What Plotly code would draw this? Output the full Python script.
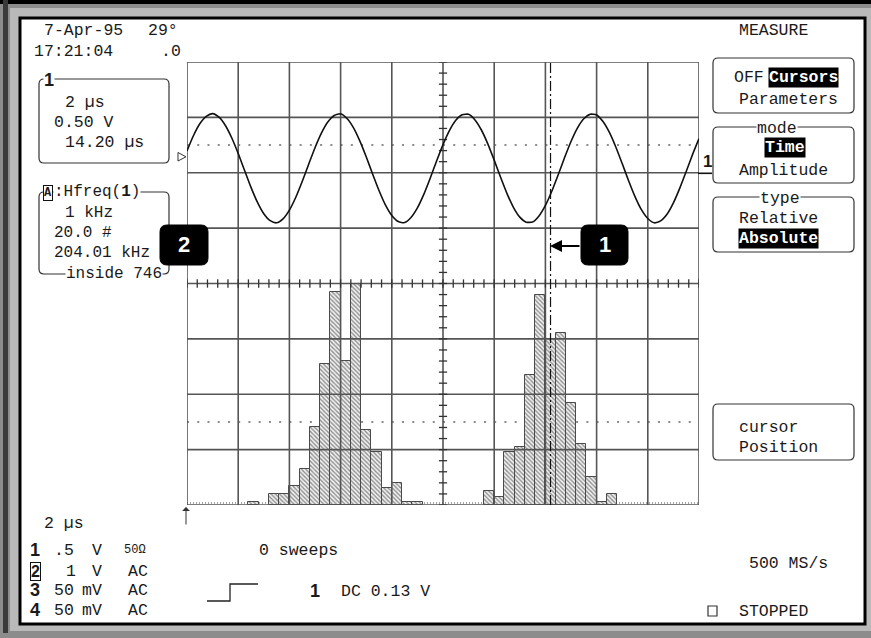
import plotly.graph_objects as go

time_us = [0.0, 0.25, 0.5, 0.75, 1.0, 1.25, 1.5, 1.75, 2.0, 2.25,
           2.5, 2.75, 3.0, 3.25, 3.5, 3.75, 4.0, 4.25, 4.5, 4.75,
           5.0, 5.25, 5.5, 5.75, 6.0, 6.25, 6.5, 6.75, 7.0, 7.25,
           7.5, 7.75, 8.0, 8.25, 8.5, 8.75, 9.0, 9.25, 9.5, 9.75,
           10.0, 10.25, 10.5, 10.75, 11.0, 11.25, 11.5, 11.75, 12.0, 12.25,
           12.5, 12.75, 13.0, 13.25, 13.5, 13.75, 14.0, 14.25, 14.5, 14.75,
           15.0, 15.25, 15.5, 15.75, 16.0, 16.25, 16.5, 16.75, 17.0, 17.25,
           17.5, 17.75, 18.0, 18.25, 18.5, 18.75, 19.0, 19.25, 19.5, 19.75,
           20.0]
ch1_volts = [0.197, 0.334, 0.442, 0.509, 0.534, 0.502, 0.427, 0.314, 0.174, 0.020,
             -0.132, -0.266, -0.371, -0.433, -0.452, -0.416, -0.337, -0.221, -0.079, 0.075,
             0.226, 0.358, 0.458, 0.517, 0.532, 0.490, 0.408, 0.288, 0.144, -0.011,
             -0.160, -0.290, -0.386, -0.441, -0.450, -0.404, -0.317, -0.195, -0.049, 0.106,
             0.254, 0.381, 0.474, 0.523, 0.528, 0.477, 0.386, 0.261, 0.114, -0.041,
             -0.188, -0.312, -0.401, -0.446, -0.445, -0.390, -0.295, -0.167, -0.018, 0.137,
             0.282, 0.403, 0.487, 0.528, 0.522, 0.462, 0.364, 0.233, 0.083, -0.072,
             -0.215, -0.333, -0.413, -0.452, -0.435, -0.375, -0.272, -0.139, 0.012, 0.166,
             0.308]

hist_center_us = [2.6, 3.4, 3.8, 4.2, 4.6, 5.0, 5.4, 5.8, 6.2, 6.6, 7.0, 7.4, 7.8, 8.2, 8.6, 9.0,
                  11.8, 12.2, 12.6, 13.0, 13.4, 13.8, 14.2, 14.6, 15.0, 15.4, 15.8, 16.2, 16.6]
hist_counts = [1, 4, 4, 7, 13, 28, 51, 77, 52, 80, 27, 19, 6, 8, 1, 1,
               5, 3, 19, 21, 47, 76, 60, 62, 37, 22, 10, 1, 4]
hist_bin_us = 0.4

cursor_time_us = 14.2
trigger_level_v = 0.13

time_per_div = 2.0      # us / div
volts_per_div = 0.5     # V / div
counts_per_div = 20.0   # # / div
n_hdiv, n_vdiv = 10, 8
ch1_ground_div = 2.0

# ---------------- geometry ----------------
FW, FH = 871, 638
L, T, PW, PH = 187, 62, 512, 443
MONO = "Liberation Mono"
SANS = "Liberation Sans"
INK = "#1a1a1a"
GRID = "#555555"


def fx(p):
    return (p - L) / PW


def fy(p):
    return (T + PH - p) / PH


fig = go.Figure()

# histogram (main y axis = counts)
fig.add_trace(go.Bar(
    x=hist_center_us, y=hist_counts, width=hist_bin_us,
    marker=dict(color="white",
                line=dict(color="#4a4a4a", width=1),
                pattern=dict(shape="\\", fgcolor="#2a2a2a", bgcolor="#f2f2f2",
                             size=3, solidity=0.45)),
    yaxis="y", hoverinfo="skip", showlegend=False))

# grid (y2 = screen divisions)
xmax = n_hdiv * time_per_div
gx, gy = [], []
for i in range(n_hdiv + 1):
    gx += [i * time_per_div, i * time_per_div, None]
    gy += [-n_vdiv / 2, n_vdiv / 2, None]
for j in range(n_vdiv + 1):
    gx += [0, xmax, None]
    gy += [-n_vdiv / 2 + j, -n_vdiv / 2 + j, None]
fig.add_trace(go.Scatter(x=gx, y=gy, mode="lines", yaxis="y2",
                         line=dict(color=GRID, width=1.6),
                         hoverinfo="skip", showlegend=False))

# minor ticks on centre cross
tx, ty = [], []
for k in range(n_hdiv * 5 + 1):
    xv = k * time_per_div / 5
    tx += [xv, xv, None]
    ty += [-0.075, 0.075, None]
for k in range(n_vdiv * 5 + 1):
    yv = -n_vdiv / 2 + k / 5
    tx += [xmax / 2 - 0.16, xmax / 2 + 0.16, None]
    ty += [yv, yv, None]
fig.add_trace(go.Scatter(x=tx, y=ty, mode="lines", yaxis="y2",
                         line=dict(color="#333333", width=1.3),
                         hoverinfo="skip", showlegend=False))

# cursor
fig.add_trace(go.Scatter(x=[cursor_time_us, cursor_time_us], y=[-n_vdiv / 2, n_vdiv / 2],
                         mode="lines", yaxis="y2",
                         line=dict(color="#111111", width=1.2, dash="10px,3px,2px,3px"),
                         hoverinfo="skip", showlegend=False))

# waveform (y3 = volts)
fig.add_trace(go.Scatter(x=time_us, y=ch1_volts, mode="lines", yaxis="y3",
                         line=dict(color="#111111", width=1.6, shape="spline", smoothing=0.6),
                         hoverinfo="skip", showlegend=False))

shapes = []


def rect(x0, y0, x1, y1, fill, line=None, lw=0, layer="below"):
    shapes.append(dict(type="rect", xref="paper", yref="paper",
                       x0=fx(x0), x1=fx(x1), y0=fy(y1), y1=fy(y0),
                       fillcolor=fill, line=dict(color=line or fill, width=lw), layer=layer))


def rbox(x0, y0, x1, y1, r, fill="rgba(0,0,0,0)", line="#333333", lw=1.2, layer="above"):
    def P(a, b):
        return f"{fx(a):.5f},{fy(b):.5f}"
    path = (f"M{P(x0 + r, y0)} L{P(x1 - r, y0)} Q{P(x1, y0)} {P(x1, y0 + r)} "
            f"L{P(x1, y1 - r)} Q{P(x1, y1)} {P(x1 - r, y1)} L{P(x0 + r, y1)} "
            f"Q{P(x0, y1)} {P(x0, y1 - r)} L{P(x0, y0 + r)} Q{P(x0, y0)} {P(x0 + r, y0)} Z")
    shapes.append(dict(type="path", xref="paper", yref="paper", path=path,
                       fillcolor=fill, line=dict(color=line, width=lw), layer=layer))


def pline(pts, color="#222222", lw=1.2, layer="above"):
    path = "M" + " L".join(f"{fx(a):.5f},{fy(b):.5f}" for a, b in pts)
    shapes.append(dict(type="path", xref="paper", yref="paper", path=path,
                       line=dict(color=color, width=lw), layer=layer))


# frame
rect(0, 0, FW, FH, "#8c8c8c")
rect(10, 8, FW, 631, "#b9b9b9")
rect(0, 0, FW, 4, "#000000")
rect(3, 0, 8, 633, "#3a3a3a")
rect(20, 18, 865, 624, "white", line="#000000", lw=3)

# dotted half-division lines (below bars)
for yv in (2.5, -2.5):
    shapes.append(dict(type="line", xref="x", yref="y2", x0=0, x1=xmax, y0=yv, y1=yv,
                       line=dict(color="#666666", width=1.5, dash="2px,8.24px"), layer="below"))
# histogram baseline
shapes.append(dict(type="line", xref="x", yref="y", x0=0, x1=xmax, y0=0.7, y1=0.7,
                   line=dict(color="#888888", width=1.5, dash="1px,2px"), layer="below"))

# left info boxes
rbox(39, 79, 169, 163, 5)
rbox(39, 192, 169, 274, 5)
# right menu boxes
rbox(713, 58, 854, 113, 5)
rbox(713, 127, 854, 183, 5)
rbox(713, 197, 854, 252, 5)
rbox(713, 404, 854, 460, 5)

# ch1 ground marker extension, trigger marker
pline([(698, 173.3), (712, 173.3)], color="#111111", lw=1.6)
shapes.append(dict(type="path", xref="paper", yref="paper",
                   path=f"M{fx(178):.5f},{fy(152.5):.5f} L{fx(186):.5f},{fy(156.8):.5f} "
                        f"L{fx(178):.5f},{fy(161):.5f} Z",
                   line=dict(color="#333333", width=1), fillcolor="white", layer="above"))
# trigger type symbol
pline([(207, 601), (230, 601), (230, 584), (258, 584)], color="#222222", lw=1.3)
# stopped square
rect(708, 606, 717, 616, "white", line="#333333", lw=1.2, layer="above")

# callout boxes
rbox(160, 225, 208, 265, 7, fill="#000000", line="#000000", lw=1)
rbox(581, 225, 628, 265, 7, fill="#000000", line="#000000", lw=1)

annotations = []


def txt(x, y, s, anchor="left", size=16.5, family=MONO, color=INK, bold=False,
        bg=None, border=None, pad=0):
    if bold:
        s = f"<b>{s}</b>"
    d = dict(x=fx(x), y=fy(y), xref="paper", yref="paper", text=s, showarrow=False,
             xanchor=anchor, yanchor="middle", font=dict(family=family, size=size, color=color),
             borderpad=pad)
    if bg:
        d["bgcolor"] = bg
    if border:
        d["bordercolor"] = border
        d["borderwidth"] = 1
    annotations.append(d)


# header
txt(43, 31, "7-Apr-95")
txt(147, 31, "29°")
txt(33, 52, "17:21:04")
txt(160, 52, ".0")
txt(738, 31, "MEASURE")

# box 1
txt(48.5, 80, "1", anchor="center", family=SANS, size=18, bold=True, bg="white")
txt(64, 102, "2 µs")
txt(53, 122, "0.50 V")
txt(64, 142, "14.20 µs")

# box 2 (histogram parameters)
txt(47.5, 193, "A", anchor="center", size=12, bold=True, bg="white", border="#111111", pad=0)
txt(53, 192, ":Hfreq(<b>1</b>)", bg="white", size=16)
txt(64, 213, "1 kHz", size=16)
txt(53, 233, "20.0 #", size=16)
txt(53, 253, "204.01 kHz", size=16)
txt(65, 274, "inside 746", bg="white", size=16)

# callout numbers
txt(184, 245, "2", anchor="center", family=SANS, size=22, bold=True, color="white")
txt(604.5, 245, "1", anchor="center", family=SANS, size=22, bold=True, color="white")
annotations.append(dict(x=fx(550), y=fy(246), xref="paper", yref="paper", text="",
                        showarrow=True, ax=31, ay=0, arrowhead=2, arrowsize=1.2,
                        arrowwidth=2, arrowcolor="#000000"))
# trigger position arrow at bottom
annotations.append(dict(x=fx(186), y=fy(507), xref="paper", yref="paper", text="",
                        showarrow=True, ax=0, ay=19, arrowhead=1, arrowsize=1.3,
                        arrowwidth=1, arrowcolor="#333333"))

# ch1 marker
txt(707, 161, "1", anchor="center", family=SANS, size=17, bold=True)

# right menu
txt(733, 77, "OFF")
txt(768, 77, "Cursors", bold=True, color="white", bg="#000000")
txt(738, 100, "Parameters")
txt(777, 128, "mode", anchor="center", bg="white")
txt(785, 147, "Time", anchor="center", bold=True, color="white", bg="#000000")
txt(738, 170, "Amplitude")
txt(780, 198, "type", anchor="center", bg="white")
txt(738, 218, "Relative")
txt(738, 238, "Absolute", bold=True, color="white", bg="#000000")
txt(738, 427, "cursor")
txt(738, 447, "Position")

# bottom status
txt(43, 523, "2 µs")
rows_y = [550, 571, 590, 610]
txt(35, rows_y[0], "1", anchor="center", family=SANS, size=18, bold=True)
txt(35, rows_y[1], "2", anchor="center", family=SANS, size=16, bold=True, border="#111111")
txt(35, rows_y[2], "3", anchor="center", family=SANS, size=18, bold=True)
txt(35, rows_y[3], "4", anchor="center", family=SANS, size=18, bold=True)
txt(53, rows_y[0], ".5")
txt(65, rows_y[1], "1")
txt(53, rows_y[2], "50")
txt(53, rows_y[3], "50")
txt(103, rows_y[0], "V", anchor="right")
txt(103, rows_y[1], "V", anchor="right")
txt(103, rows_y[2], "mV", anchor="right")
txt(103, rows_y[3], "mV", anchor="right")
txt(123, rows_y[0], "50Ω", size=12)
txt(127, rows_y[1], "AC")
txt(127, rows_y[2], "AC")
txt(127, rows_y[3], "AC")
txt(258, 550, "0 sweeps")
txt(315, 591, "1", anchor="center", family=SANS, size=18, bold=True)
txt(340, 591, "DC 0.13 V")
txt(748, 563, "500 MS/s")
txt(738, 611, "STOPPED")

fig.update_layout(
    width=FW, height=FH,
    margin=dict(l=L, r=FW - L - PW, t=T, b=FH - T - PH, pad=0),
    paper_bgcolor="#8c8c8c", plot_bgcolor="rgba(0,0,0,0)",
    showlegend=False, hovermode=False, bargap=0,
    xaxis=dict(range=[0, xmax], visible=False, fixedrange=True),
    yaxis=dict(range=[0, n_vdiv * counts_per_div], visible=False, fixedrange=True),
    yaxis2=dict(range=[-n_vdiv / 2, n_vdiv / 2], overlaying="y", anchor="x",
                visible=False, fixedrange=True),
    yaxis3=dict(range=[-(n_vdiv / 2 + ch1_ground_div) * volts_per_div,
                       (n_vdiv / 2 - ch1_ground_div) * volts_per_div],
                overlaying="y", anchor="x", visible=False, fixedrange=True),
    shapes=shapes, annotations=annotations,
)

fig.write_html("out.html", config={"displayModeBar": False},
               post_script="document.body.style.margin='0px';document.body.style.overflow='hidden';")
